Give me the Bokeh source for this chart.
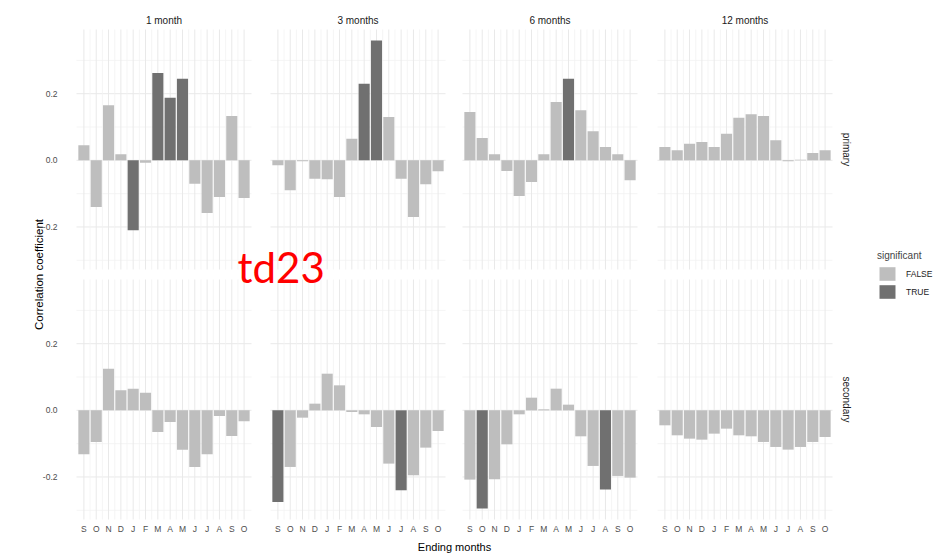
import numpy as np
from bokeh.plotting import figure
from bokeh.models import (Range1d, LinearAxis, FixedTicker, PrintfTickFormatter,
                          ColumnDataSource, Label, Legend, LegendItem)
from bokeh.transform import factor_cmap
from bokeh.core.properties import value, field
from bokeh.embed import file_html
from bokeh.resources import INLINE

# ---------------- data ----------------
months = ["S", "O", "N", "D", "J", "F", "M", "A", "M", "J", "J", "A", "S", "O"]
windows = ["1 month", "3 months", "6 months", "12 months"]
groups = ["primary", "secondary"]
sig_levels = ["FALSE", "TRUE"]

primary_1m = [0.045, -0.14, 0.165, 0.018, -0.21, -0.007, 0.262, 0.188, 0.245, -0.07, -0.158, -0.11, 0.133, -0.113]
primary_1m_sig = [0, 0, 0, 0, 1, 0, 1, 1, 1, 0, 0, 0, 0, 0]
primary_3m = [-0.015, -0.09, -0.003, -0.055, -0.057, -0.11, 0.065, 0.23, 0.36, 0.13, -0.055, -0.17, -0.072, -0.033]
primary_3m_sig = [0, 0, 0, 0, 0, 0, 0, 1, 1, 0, 0, 0, 0, 0]
primary_6m = [0.145, 0.067, 0.018, -0.032, -0.107, -0.065, 0.018, 0.175, 0.245, 0.15, 0.087, 0.04, 0.018, -0.06]
primary_6m_sig = [0, 0, 0, 0, 0, 0, 0, 0, 1, 0, 0, 0, 0, 0]
primary_12m = [0.04, 0.03, 0.05, 0.055, 0.04, 0.08, 0.128, 0.138, 0.133, 0.06, -0.003, 0.002, 0.022, 0.03]
primary_12m_sig = [0, 0, 0, 0, 0, 0, 0, 0, 0, 0, 0, 0, 0, 0]

secondary_1m = [-0.132, -0.095, 0.125, 0.06, 0.065, 0.053, -0.065, -0.035, -0.118, -0.17, -0.132, -0.017, -0.077, -0.033]
secondary_1m_sig = [0, 0, 0, 0, 0, 0, 0, 0, 0, 0, 0, 0, 0, 0]
secondary_3m = [-0.275, -0.17, -0.022, 0.02, 0.11, 0.075, -0.005, -0.012, -0.05, -0.16, -0.24, -0.195, -0.112, -0.062]
secondary_3m_sig = [1, 0, 0, 0, 0, 0, 0, 0, 0, 0, 1, 0, 0, 0]
secondary_6m = [-0.208, -0.295, -0.207, -0.102, -0.012, 0.038, 0.003, 0.065, 0.017, -0.078, -0.167, -0.238, -0.197, -0.202]
secondary_6m_sig = [0, 1, 0, 0, 0, 0, 0, 0, 0, 0, 0, 1, 0, 0]
secondary_12m = [-0.045, -0.075, -0.085, -0.088, -0.07, -0.055, -0.075, -0.078, -0.095, -0.11, -0.118, -0.11, -0.095, -0.08]
secondary_12m_sig = [0, 0, 0, 0, 0, 0, 0, 0, 0, 0, 0, 0, 0, 0]

y_major = [-0.2, 0.0, 0.2]
y_minor = [-0.3, -0.1, 0.1, 0.3]

series = {
    ("primary", 0): (primary_1m, primary_1m_sig),
    ("primary", 1): (primary_3m, primary_3m_sig),
    ("primary", 2): (primary_6m, primary_6m_sig),
    ("primary", 3): (primary_12m, primary_12m_sig),
    ("secondary", 0): (secondary_1m, secondary_1m_sig),
    ("secondary", 1): (secondary_3m, secondary_3m_sig),
    ("secondary", 2): (secondary_6m, secondary_6m_sig),
    ("secondary", 3): (secondary_12m, secondary_12m_sig),
}

# ---------------- layout / style ----------------
W, H = 937, 553
PANEL_LEFT = [76, 270, 462, 657]
PANEL_W = 175
ROW_TOP = [29, 279]
PANEL_H = 240
LIGHT = "#BEBEBE"
DARK = "#707070"
FONT = "Liberation Sans"
GRID_MAJOR = "#e9e9e9"
GRID_MINOR = "#f2f2f2"

n = len(months)
x_idx = list(range(1, n + 1))
X_LO, X_HI = 1 - 0.6, n + 0.6          # ggplot discrete expansion
allv = np.concatenate([np.array(v[0]) for v in series.values()])
span = allv.max() - allv.min()
Y_LO, Y_HI = allv.min() - 0.05 * span, allv.max() + 0.05 * span   # ggplot 5% expansion

p = figure(width=W, height=H, x_range=Range1d(0, W), y_range=Range1d(0, H),
           x_axis_type=None, y_axis_type=None, min_border=0,
           toolbar_location=None, output_backend="svg", outline_line_color=None)
p.background_fill_color = "white"
p.border_fill_color = "white"

u = PANEL_W / (X_HI - X_LO)
for c, L in enumerate(PANEL_LEFT):
    start = X_LO - L / u
    p.extra_x_ranges[f"c{c}"] = Range1d(start, start + W / u)
k = PANEL_H / (Y_HI - Y_LO)
for r, T in enumerate(ROW_TOP):
    end = Y_HI + T / k
    p.extra_y_ranges[f"r{r}"] = Range1d(end - H / k, end)

first_bar = None
for r, g in enumerate(groups):
    for c, w in enumerate(windows):
        xr, yr = f"c{c}", f"r{r}"
        # grid lines
        p.segment(x0=X_LO, x1=X_HI, y0=y_minor, y1=y_minor, line_color=GRID_MINOR,
                  line_width=0.8, x_range_name=xr, y_range_name=yr)
        p.segment(x0=X_LO, x1=X_HI, y0=y_major, y1=y_major, line_color=GRID_MAJOR,
                  line_width=1, x_range_name=xr, y_range_name=yr)
        xminor = [i + 0.5 for i in x_idx[:-1]]
        p.segment(x0=xminor, x1=xminor, y0=Y_LO, y1=Y_HI, line_color=GRID_MINOR,
                  line_width=0.8, x_range_name=xr, y_range_name=yr)
        p.segment(x0=x_idx, x1=x_idx, y0=Y_LO, y1=Y_HI, line_color=GRID_MAJOR,
                  line_width=1, x_range_name=xr, y_range_name=yr)
        vals, sig = series[(g, c)]
        src = ColumnDataSource(dict(x=x_idx, v=vals, month=months,
                                    sig=[sig_levels[s] for s in sig]))
        rb = p.vbar(x="x", top="v", bottom=0, width=0.9, source=src,
                    fill_color=factor_cmap("sig", [LIGHT, DARK], sig_levels),
                    line_color=None, x_range_name=xr, y_range_name=yr)
        if first_bar is None:
            first_bar = rb
        # strip labels
        if r == 0:
            p.text(x=[(X_LO + X_HI) / 2], y=[Y_HI], text=[w], x_range_name=xr, y_range_name=yr,
                   text_align="center", text_baseline="middle", y_offset=-9,
                   text_font=value(FONT), text_font_size="10px", text_color="#1a1a1a")
        if c == len(windows) - 1:
            p.text(x=[X_HI], y=[(Y_LO + Y_HI) / 2], text=[g], x_range_name=xr, y_range_name=yr,
                   text_align="center", text_baseline="middle", x_offset=14, angle=-np.pi / 2,
                   text_font=value(FONT), text_font_size="10px", text_color="#1a1a1a")


def style_axis(ax, standoff):
    ax.axis_line_color = None
    ax.major_tick_line_color = None
    ax.minor_tick_line_color = None
    ax.major_tick_out = 0
    ax.major_tick_in = 0
    ax.minor_tick_out = 0
    ax.minor_tick_in = 0
    ax.major_label_standoff = standoff
    ax.major_label_text_font = FONT
    ax.major_label_text_font_size = "8.5px"
    ax.major_label_text_color = "#4d4d4d"


for c in range(len(windows)):
    ax = LinearAxis(x_range_name=f"c{c}", y_range_name="r1", fixed_location=Y_LO,
                    bounds=(X_LO, X_HI), ticker=FixedTicker(ticks=x_idx, minor_ticks=[]),
                    major_label_overrides={i: m for i, m in zip(x_idx, months)})
    style_axis(ax, 4)
    p.add_layout(ax, "below")

for r in range(len(groups)):
    ay = LinearAxis(x_range_name="c0", y_range_name=f"r{r}", fixed_location=X_LO,
                    bounds=(Y_LO, Y_HI), ticker=FixedTicker(ticks=y_major, minor_ticks=[]),
                    formatter=PrintfTickFormatter(format="%.1f"))
    style_axis(ay, 19)
    p.add_layout(ay, "left")

# axis titles
p.add_layout(Label(x=38, y=H - 274, text="Correlation coefficient", angle=np.pi / 2,
                   text_align="center", text_baseline="middle", text_font=FONT,
                   text_font_size="11.5px", text_color="black"))
p.add_layout(Label(x=454, y=H - 546, text="Ending months", text_align="center",
                   text_baseline="middle", text_font=FONT, text_font_size="11px",
                   text_color="black"))

# legend
legend = Legend(items=[LegendItem(label=field("sig"), renderers=[first_bar])],
                location=(877, H - 300), title="significant", padding=0, margin=0,
                spacing=1, glyph_width=20, glyph_height=17, label_height=17,
                label_standoff=9, title_standoff=4, border_line_color=None,
                background_fill_alpha=0)
legend.label_text_font = FONT
legend.label_text_font_size = "8.5px"
legend.label_text_color = "#1a1a1a"
legend.title_text_font = FONT
legend.title_text_font_size = "10px"
legend.title_text_font_style = "normal"
p.add_layout(legend)

# overlay annotation
p.add_layout(Label(x=237, y=H - 266, text="td23", text_color="#ff0000",
                   text_font="Lato", text_font_size="42px", text_baseline="alphabetic"))

open("out.html", "w").write(file_html(p, INLINE))
